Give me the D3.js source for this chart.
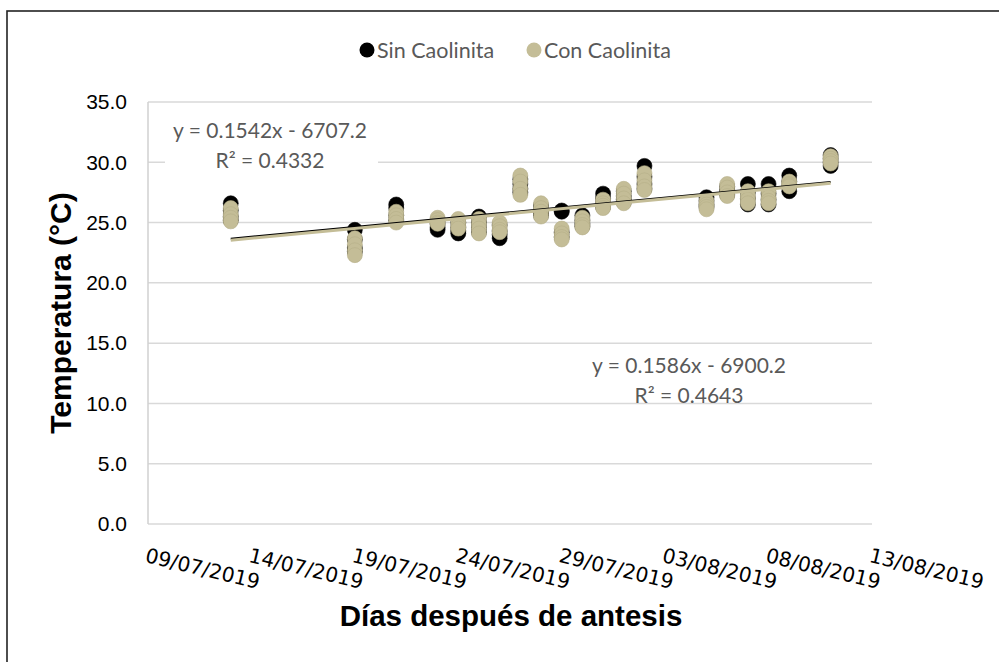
<!DOCTYPE html>
<html><head><meta charset="utf-8">
<script src="https://cdn.jsdelivr.net/npm/d3@7"></script>
<style>body{margin:0;background:#fff}svg{display:block}</style>
</head><body>
<svg id="c" width="999" height="662"></svg>
<script>
const dates = ["2019-07-13","2019-07-19","2019-07-21","2019-07-23","2019-07-24","2019-07-25","2019-07-26","2019-07-27","2019-07-28","2019-07-29","2019-07-30","2019-07-31","2019-08-01","2019-08-02","2019-08-05","2019-08-06","2019-08-07","2019-08-08","2019-08-09","2019-08-11"];
const sinCaolinita = [
 [26.6,26.0,25.5,25.2],[24.4,23.6,22.9,22.6],[26.5,26.2,25.6,25.2],[25.2,24.9,24.6,24.4],
 [25.0,24.6,24.3,24.1],[25.5,25.0,24.6,24.2],[24.8,24.3,24.0,23.7],[28.6,28.2,27.8,27.5],
 [26.4,26.0,25.8,25.6],[26.0,25.9,24.2,23.8],[25.6,25.2,24.9,24.7],[27.4,27.0,26.6,26.3],
 [27.6,27.2,26.9,26.7],[29.7,28.8,28.2,27.8],[27.1,26.8,26.5,26.3],[28.0,27.7,27.5,27.3],
 [28.2,27.5,27.0,26.5],[28.2,27.4,26.9,26.5],[28.9,28.4,28.0,27.6],[30.6,30.3,30.0,29.7]];
const conCaolinita = [
 [26.2,25.7,25.4,25.1],[23.7,23.2,22.7,22.3],[25.9,25.6,25.3,25.0],[25.4,25.2,25.0,24.9],
 [25.3,25.0,24.7,24.5],[25.3,24.9,24.5,24.1],[25.0,24.7,24.4,24.2],[28.9,28.4,27.8,27.3],
 [26.6,26.2,25.9,25.5],[24.5,24.1,23.8,23.6],[25.4,25.1,24.8,24.6],[26.9,26.6,26.4,26.2],
 [27.8,27.4,27.0,26.6],[29.1,28.5,28.0,27.7],[26.8,26.5,26.3,26.1],[28.2,27.9,27.5,27.2],
 [27.6,27.2,26.9,26.6],[27.6,27.1,26.8,26.6],[28.4,28.2,28.1,28.0],[30.5,30.3,30.1,29.9]];
const xTickLabels = ["09/07/2019","14/07/2019","19/07/2019","24/07/2019","29/07/2019","03/08/2019","08/08/2019","13/08/2019"];
const yTicks = [0,5,10,15,20,25,30,35];
const seriesNames = ["Sin Caolinita","Con Caolinita"];
const eqLabels = [["y = 0.1542x - 6707.2","R² = 0.4332"],["y = 0.1586x - 6900.2","R² = 0.4643"]];

const svg = d3.select("#c");
const parseIso = d3.timeParse("%Y-%m-%d");
const parseDmy = d3.timeParse("%d/%m/%Y");
const tickDates = xTickLabels.map(parseDmy);
const L=148,R=872,T=102,B=524;
const x = d3.scaleTime().domain([tickDates[0], tickDates[tickDates.length-1]]).range([L,R]);
const y = d3.scaleLinear().domain([0,35]).range([B,T]);

// outer border
svg.append("rect").attr("x",7).attr("y",11).attr("width",1100).attr("height",800)
  .attr("fill","none").attr("stroke","#222").attr("stroke-width",1.6);

// gridlines
svg.append("g").selectAll("line").data(yTicks).join("line")
  .attr("x1",L).attr("x2",R).attr("y1",d=>y(d)).attr("y2",d=>y(d))
  .attr("stroke","#d9d9d9").attr("stroke-width",1.5);
svg.append("line").attr("x1",L).attr("x2",L).attr("y1",T).attr("y2",B)
  .attr("stroke","#d0d0d0").attr("stroke-width",1.5);

// y tick labels
svg.append("g").selectAll("text").data(yTicks).join("text")
  .attr("x",127).attr("y",d=>y(d)).attr("dy","0.35em").attr("text-anchor","end")
  .attr("font-family","Liberation Sans, Arial, sans-serif").attr("font-size",21).attr("fill","#000")
  .text(d=>d3.format(".1f")(d));

// x tick labels
svg.append("g").selectAll("text").data(tickDates).join("text")
  .attr("transform",d=>`translate(${x(d)},546) rotate(13.5)`)
  .attr("dy","0.8em").attr("text-anchor","start")
  .attr("font-family","DejaVu Sans, sans-serif").attr("font-size",20.3).attr("fill","#000")
  .text((d,i)=>xTickLabels[i]);

// axis titles
svg.append("text").attr("transform","translate(71,313) rotate(-90)").attr("text-anchor","middle")
  .attr("font-family","Liberation Sans, Arial, sans-serif").attr("font-weight","bold").attr("font-size",30)
  .text("Temperatura (°C)");
svg.append("text").attr("x",511).attr("y",626).attr("text-anchor","middle")
  .attr("font-family","Liberation Sans, Arial, sans-serif").attr("font-weight","bold").attr("font-size",29.5)
  .text("Días después de antesis");

const colors = ["#000000","#C4BD97"];
const strokes = ["#000000","#b5ae88"];
const allSeries = [sinCaolinita, conCaolinita];

function flatten(s){ const out=[]; s.forEach((vals,i)=>vals.forEach(v=>out.push({d:parseIso(dates[i]),v}))); return out; }
const pts = allSeries.map(flatten);

// markers
pts.forEach((p,si)=>{
  svg.append("g").selectAll("circle").data(p).join("circle")
    .attr("cx",d=>x(d.d)).attr("cy",d=>y(d.v)).attr("r",7.5)
    .attr("fill",colors[si]).attr("stroke",strokes[si]).attr("stroke-width",0.6);
});

// linear trendlines (least squares on day number)
const day0 = tickDates[0];
pts.forEach((p,si)=>{
  const xs=p.map(d=>(d.d-day0)/864e5), ys=p.map(d=>d.v);
  const mx=d3.mean(xs), my=d3.mean(ys);
  const b=d3.sum(xs.map((xi,i)=>(xi-mx)*(ys[i]-my)))/d3.sum(xs.map(xi=>(xi-mx)**2));
  const a=my-b*mx;
  const x0=d3.min(xs), x1=d3.max(xs);
  const line=d3.line().x(d=>x(new Date(+day0+d*864e5))).y(d=>y(a+b*d));
  svg.append("path").attr("d",line([x0,x1])).attr("fill","none")
    .attr("stroke",colors[si]).attr("stroke-width",si===0?2.2:3);
});

// equation labels
const eqPos = [[270,131,"#fff"],[689,366,null]];
eqLabels.forEach((lbl,i)=>{
  const [cx,cy,bg]=eqPos[i];
  if(bg) svg.append("rect").attr("x",cx-105).attr("y",cy-17).attr("width",213).attr("height",62).attr("fill",bg);
  lbl.forEach((t,j)=>{
    svg.append("text").attr("x",cx).attr("y",cy+j*30).attr("dy","0.35em").attr("text-anchor","middle")
      .attr("font-family","Lato, Open Sans, sans-serif").attr("font-size",21).attr("fill","#595959").text(t);
  });
});

// legend
const lg = svg.append("g");
const legX=[367,534];
seriesNames.forEach((n,i)=>{
  lg.append("circle").attr("cx",legX[i]).attr("cy",50).attr("r",7.5).attr("fill",colors[i]);
  lg.append("text").attr("x",legX[i]+10).attr("y",50).attr("dy","0.35em")
    .attr("font-family","Lato, Open Sans, sans-serif").attr("font-size",21.5).attr("fill","#595959").text(n);
});
</script>
</body></html>
